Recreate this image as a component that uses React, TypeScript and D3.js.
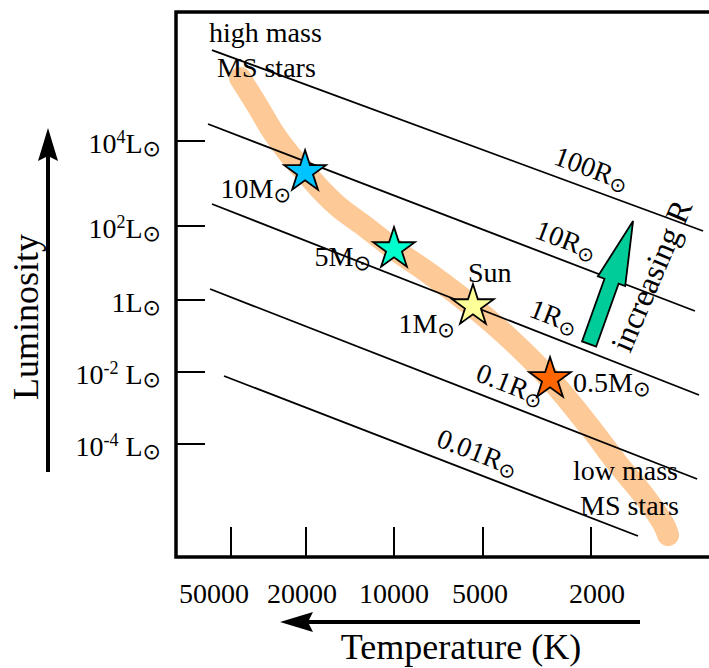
import React from "react";
import * as d3 from "d3";

// hand drawn axes: tick marks are not evenly spaced in log units
const tempTicks = [50000, 20000, 10000, 5000, 2000]; // K
const lumTicks = [4, 2, 0, -2, -4]; // log10(L / Lsun)
const lumTickBase = ["10", "10", "1", "10", "10"];
const lumTickExp = ["4", "2", "", "-2", "-4"];
const lumTickGap = ["", "", "", " ", " "];

// lines of constant radius, endpoints as [log T, log L]
const radiusLabels = ["100R", "10R", "1R", "0.1R", "0.01R"];
const radiusStart = [[4.8, 6.14], [4.821, 4.4], [4.8, 2.518], [4.81, 0.297], [4.736, -2.111]];
const radiusEnd = [[2.888, 1.865], [2.918, -0.306], [2.903, -2.639], [2.91, -4.972], [3.128, -6.556]];
const radiusLabelAt = [0.685, 0.66, 0.64, 0.534, 0.5];

// main sequence track
const msLogT = [4.651, 4.561, 4.476, 4.386, 4.306, 4.243, 4.185, 4.106, 4.0, 3.878, 3.736, 3.607, 3.452, 3.297, 3.205, 3.102, 3.032, 3.017];
const msLogL = [5.482, 4.847, 4.212, 3.671, 3.271, 2.8, 2.424, 2.024, 1.378, 0.703, -0.167, -1.028, -2.194, -3.611, -4.528, -5.472, -6.25, -6.528];

// stars on the main sequence
const starMass = ["10M", "5M", "1M", "0.5M"];
const starLogT = [4.306, 4.0, 3.733, 3.452];
const starLogL = [3.271, 1.378, -0.167, -2.194];
const starColors = ["#00c4ff", "#00ffcc", "#ffff99", "#ff6600"];

// "increasing R" arrow, tail and tip as [log T, log L]
const arrowTail = [3.308, -1.222];
const arrowTip = [3.146, 2.118];

const W = 709;
const H = 668;
const frame = { left: 176, top: 12, bottom: 557, right: 709 };
const serif = "Liberation Serif, Times New Roman, serif";
const symbolFont = "DejaVu Sans";
// temperature labels are not quite centred under their ticks in the original
const tempLabelNudge = [-17, -4, 0, -3, 6];

const x = d3.scaleLinear().domain(tempTicks.map(Math.log10)).range([231, 306, 394, 483, 591]);
const y = d3.scaleLinear().domain(lumTicks).range([141, 226, 300, 372, 444]);

const Sun = ({ size = 17, dy = 5 }: { size?: number; dy?: number }) => (
  <tspan style={{ fontFamily: symbolFont }} fontSize={size} dy={dy}>⊙</tspan>
);

// label placement next to each star: anchor, dx, dy
const starLabelPos: [string, number, number][] = [
  ["end", -14, 26],
  ["end", -23, 17],
  ["end", -18, 27],
  ["start", 23, 13],
];

const txt = { fontFamily: serif };

const App = () => {
  const msLine = d3
    .line<number>()
    .x((_, i) => x(msLogT[i]))
    .y((_, i) => y(msLogL[i]))
    .curve(d3.curveCatmullRom.alpha(0.5));

  const star = d3.symbol(d3.symbolStar, 540)();

  // green arrow polygon
  const tx = x(arrowTail[0]), ty = y(arrowTail[1]);
  const hx = x(arrowTip[0]), hy = y(arrowTip[1]);
  const len = Math.hypot(hx - tx, hy - ty);
  const ux = (hx - tx) / len, uy = (hy - ty) / len;
  const nx = -uy, ny = ux;
  const shaft = 7.5, head = 14.5, headLen = 64;
  const bx = tx + ux * (len - headLen), by = ty + uy * (len - headLen);
  const arrowPts = [
    [tx + nx * shaft, ty + ny * shaft],
    [bx + nx * shaft, by + ny * shaft],
    [bx + nx * head, by + ny * head],
    [hx, hy],
    [bx - nx * head, by - ny * head],
    [bx - nx * shaft, by - ny * shaft],
    [tx - nx * shaft, ty - ny * shaft],
  ];

  return (
    <svg
      width={W}
      height={H}
      style={{ position: "absolute", left: 0, top: 0, background: "#fff" }}
    >
      {/* main sequence band */}
      <path d={msLine(msLogT) ?? ""} fill="none" stroke="#fdc996" strokeWidth={22} strokeLinecap="round" strokeLinejoin="round" />

      {/* constant radius lines */}
      {radiusLabels.map((lab, i) => {
        const x1 = x(radiusStart[i][0]), y1 = y(radiusStart[i][1]);
        const x2 = x(radiusEnd[i][0]), y2 = y(radiusEnd[i][1]);
        const t = radiusLabelAt[i];
        const px = x1 + (x2 - x1) * t, py = y1 + (y2 - y1) * t;
        const ang = (Math.atan2(y2 - y1, x2 - x1) * 180) / Math.PI;
        return (
          <g key={lab}>
            <line x1={x1} y1={y1} x2={x2} y2={y2} stroke="#000" strokeWidth={1.8} />
            <text style={txt} transform={`translate(${px},${py}) rotate(${ang})`} y={-11} fontSize={28}>
              {lab}
              <Sun size={20} dy={4} />
            </text>
          </g>
        );
      })}

      {/* frame */}
      <path
        d={`M${frame.right},${frame.top}H${frame.left}V${frame.bottom}H${frame.right}`}
        fill="none"
        stroke="#000"
        strokeWidth={3.5}
      />

      {/* luminosity ticks */}
      {lumTicks.map((v, i) => (
        <g key={v}>
          <line x1={frame.left} x2={frame.left + 29} y1={y(v)} y2={y(v)} stroke="#000" strokeWidth={2} />
          <text style={txt} x={161} y={y(v) + 12} textAnchor="end" fontSize={28}>
            {lumTickBase[i]}
            {lumTickExp[i] && (
              <tspan fontSize={18} dy={-10}>{lumTickExp[i]}</tspan>
            )}
            <tspan dy={lumTickExp[i] ? 10 : 0}>{lumTickGap[i] + "L"}</tspan>
            <Sun size={22} dy={3} />
          </text>
        </g>
      ))}

      {/* temperature ticks */}
      {tempTicks.map((v, i) => (
        <g key={v}>
          <line x1={x(Math.log10(v))} x2={x(Math.log10(v))} y1={frame.bottom - 30} y2={frame.bottom} stroke="#000" strokeWidth={2} />
          <text style={txt} x={x(Math.log10(v)) + tempLabelNudge[i]} y={603} textAnchor="middle" fontSize={28}>{v}</text>
        </g>
      ))}

      {/* stars */}
      {starMass.map((m, i) => {
        const sx = x(starLogT[i]), sy = y(starLogL[i]);
        const [anchor, dx, dy] = starLabelPos[i];
        return (
          <g key={m}>
            <path d={star ?? ""} transform={`translate(${sx},${sy})`} fill={starColors[i]} stroke="#000" strokeWidth={1.8} strokeLinejoin="miter" />
            <text style={txt} x={sx + dx} y={sy + dy} textAnchor={anchor} fontSize={28}>
              {m}
              <Sun size={21} dy={4} />
            </text>
          </g>
        );
      })}
      <text style={txt} x={x(starLogT[2]) - 5} y={y(starLogL[2]) - 24} fontSize={28}>Sun</text>

      {/* annotations */}
      <text style={txt} x={209} y={42} fontSize={28}>high mass</text>
      <text style={txt} x={217} y={77} fontSize={28}>MS stars</text>
      <text style={txt} x={573} y={480} fontSize={28}>low mass</text>
      <text style={txt} x={580} y={515} fontSize={28}>MS stars</text>

      <polygon points={arrowPts.map((p) => p.join(",")).join(" ")} fill="#00cc99" stroke="#000" strokeWidth={1.8} strokeLinejoin="miter" />
      <text style={txt} transform="translate(630,354) rotate(-67)" fontSize={32}>increasing R</text>

      {/* axis arrows and titles */}
      <line x1={48} x2={48} y1={150} y2={472} stroke="#000" strokeWidth={4} />
      <path d="M48,128 L58,161 L48,156 L38,161 Z" fill="#000" />
      <text style={txt} transform="translate(38,317) rotate(-90)" textAnchor="middle" fontSize={36}>Luminosity</text>

      <line x1={300} x2={640} y1={622} y2={622} stroke="#000" strokeWidth={4} />
      <path d="M280,622 L313,612 L308,622 L313,632 Z" fill="#000" />
      <text style={txt} x={461} y={659} textAnchor="middle" fontSize={36}>Temperature (K)</text>
    </svg>
  );
};

export default App;
